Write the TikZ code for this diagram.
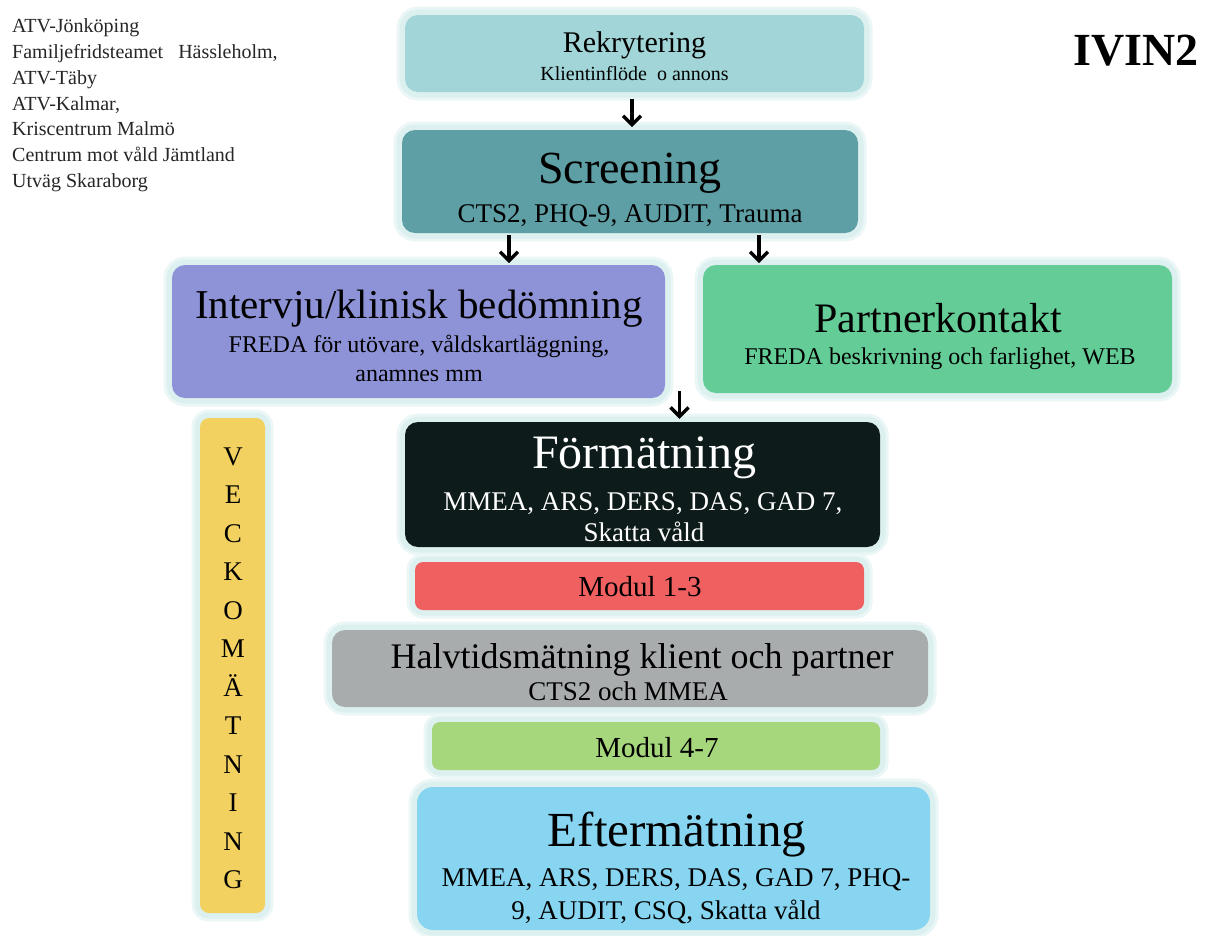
\documentclass[tikz,border=0pt]{standalone}
\usepackage{fontspec}
\setmainfont{Liberation Serif}
\usetikzlibrary{arrows.meta}
\definecolor{glowc}{HTML}{DDF0F0}
\definecolor{rekc}{HTML}{A2D5D8}
\definecolor{scrc}{HTML}{5E9FA6}
\definecolor{intc}{HTML}{8E93D8}
\definecolor{partc}{HTML}{64CD97}
\definecolor{forc}{HTML}{0E1B1B}
\definecolor{mac}{HTML}{F16060}
\definecolor{halvc}{HTML}{A8ACAD}
\definecolor{mbc}{HTML}{A6D77C}
\definecolor{eftc}{HTML}{88D5F1}
\definecolor{veckc}{HTML}{F2D160}
\newcommand\fsz[1]{\fontsize{#1}{#1}\selectfont}
\begin{document}
\begin{tikzpicture}[x=1pt,y=-1pt,
  box/.style={rounded corners=#1, inner sep=0pt,
    preaction={draw=glowc!60, line width=17pt},
    preaction={draw=glowc, line width=11pt}},
  box/.default=13pt,
  txt/.style={anchor=base, inner sep=0pt},
  lst/.style={anchor=base west, inner sep=0pt, font=\fsz{20}, text=black!85},
  arr/.style={line width=3.2pt, -{Straight Barb[length=9pt,width=18pt,line width=3.4pt]}}]
\useasboundingbox (0,0) rectangle (1207,935);
\fill[white] (0,0) rectangle (1207,935);

% left list
\node[lst] (l1) at (12,32) {ATV-Jönköping};
\node[lst] (l2) at (12,58) {Familjefridsteamet\ \ \ Hässleholm,};
\node[lst] (l3) at (12,84) {ATV-Täby};
\node[lst] (l4) at (12,110) {ATV-Kalmar,};
\node[lst] (l5) at (12,135) {Kriscentrum Malmö};
\node[lst] (l6) at (12,161) {Centrum mot våld Jämtland};
\node[lst] (l7) at (12,187) {Utväg Skaraborg};

% title
\node[txt, anchor=base east, font=\fsz{46}\bfseries] (ivin) at (1199,65) {IVIN2};

% boxes
\node[box, fill=rekc, minimum width=459pt, minimum height=77pt] (rek) at (634.5,53.5) {};
\node[box, fill=scrc, minimum width=456pt, minimum height=103pt] (scr) at (630,181.5) {};
\node[box, fill=intc, minimum width=493pt, minimum height=133pt] (int) at (418.5,331.5) {};
\node[box, fill=partc, minimum width=469pt, minimum height=128pt] (part) at (937.5,329) {};
\node[box, fill=forc, minimum width=475pt, minimum height=125pt] (for) at (642.5,484.5) {};
\node[box=8pt, fill=mac, minimum width=449pt, minimum height=48pt] (m13) at (639.5,586) {};
\node[box, fill=halvc, minimum width=596pt, minimum height=77pt] (halv) at (630,668.5) {};
\node[box=8pt, fill=mbc, minimum width=448pt, minimum height=48pt] (m47) at (656,746) {};
\node[box=16pt, fill=eftc, minimum width=513pt, minimum height=143pt] (eft) at (673.5,858.5) {};
\node[box=9pt, fill=veckc, minimum width=65pt, minimum height=495pt] (veck) at (232.5,665.5) {};

% texts
\node[txt, font=\fsz{30}] (rekT) at (634.5,52) {Rekrytering};
\node[txt, font=\fsz{20}] (rekS) at (634.5,80) {Klientinflöde\ \ o annons};
\node[txt, font=\fsz{46}] (scrT) at (630,183) {Screening};
\node[txt, font=\fsz{27}] (scrS) at (630,222) {CTS2, PHQ-9, AUDIT, Trauma};
\node[txt, font=\fsz{41}] (intT) at (419,318) {Intervju/klinisk bedömning};
\node[txt, font=\fsz{24}] (intS1) at (419,352) {FREDA för utövare, våldskartläggning,};
\node[txt, font=\fsz{24}] (intS2) at (419,381) {anamnes mm};
\node[txt, font=\fsz{42}] (partT) at (938,332) {Partnerkontakt};
\node[txt, font=\fsz{24}] (partS) at (940,364) {FREDA beskrivning och farlighet, WEB};
\node[txt, font=\fsz{48}, text=white] (forT) at (644,468) {Förmätning};
\node[txt, font=\fsz{27}, text=white] (forS1) at (643,510) {MMEA, ARS, DERS, DAS, GAD 7,};
\node[txt, font=\fsz{27}, text=white] (forS2) at (644,541) {Skatta våld};
\node[txt, font=\fsz{29}] (m13T) at (640,596) {Modul 1-3};
\node[txt, font=\fsz{36}] (halvT) at (642,668) {Halvtidsmätning klient och partner};
\node[txt, font=\fsz{27}] (halvS) at (628,700) {CTS2 och MMEA};
\node[txt, font=\fsz{29}] (m47T) at (657,757) {Modul 4-7};
\node[txt, font=\fsz{49}] (eftT) at (677,846) {Eftermätning};
\node[txt, font=\fsz{27}] (eftS1) at (676,886) {MMEA, ARS, DERS, DAS, GAD 7, PHQ-};
\node[txt, font=\fsz{27}] (eftS2) at (666,919) {9, AUDIT, CSQ, Skatta våld};

\foreach \L [count=\i from 0] in {V,E,C,K,O,M,Ä,T,N,I,N,G}
  \node[txt, font=\fsz{27}] (vl\i) at (233,465+38.5*\i) {\L};

% arrows
\draw[arr] ([xshift=-2.5pt,yshift=-7pt]rek.south) -- ++(0,28);
\draw[arr] ([xshift=-121pt,yshift=-2pt]scr.south) -- ++(0,28);
\draw[arr] ([xshift=129pt,yshift=-2pt]scr.south) -- ++(0,28);
\draw[arr] ([xshift=37pt,yshift=31pt]for.north) -- ++(0,28);
\end{tikzpicture}
\end{document}
